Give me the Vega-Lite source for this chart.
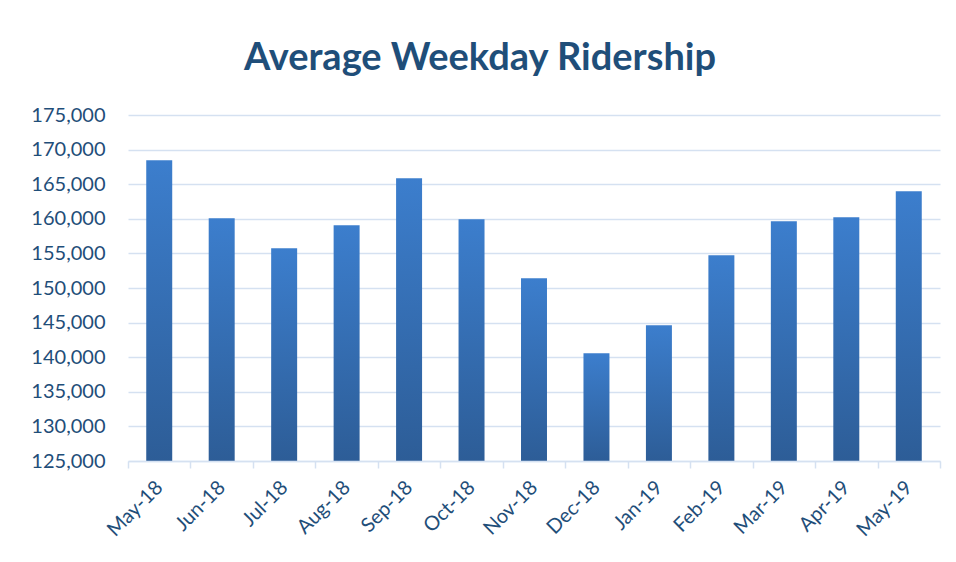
{
  "$schema": "https://vega.github.io/schema/vega-lite/v6.json",
  "autosize": {"type": "none"},
  "width": 812,
  "height": 346,
  "padding": {"left": 128, "top": 115, "right": 16, "bottom": 101},
  "background": "white",
  "title": {
    "text": "Average Weekday Ridership",
    "font": "Lato",
    "fontSize": 38,
    "fontWeight": "bold",
    "color": "#1F4E79",
    "anchor": "middle",
    "dx": -54,
    "offset": 27
  },
  "data": {
    "values": [
      {"month": "May-18", "riders": 168450},
      {"month": "Jun-18", "riders": 160070},
      {"month": "Jul-18", "riders": 155740},
      {"month": "Aug-18", "riders": 159060},
      {"month": "Sep-18", "riders": 165850},
      {"month": "Oct-18", "riders": 159930},
      {"month": "Nov-18", "riders": 151400},
      {"month": "Dec-18", "riders": 140560},
      {"month": "Jan-19", "riders": 144610},
      {"month": "Feb-19", "riders": 154730},
      {"month": "Mar-19", "riders": 159640},
      {"month": "Apr-19", "riders": 160220},
      {"month": "May-19", "riders": 163970}
    ]
  },
  "mark": {
    "type": "bar",
    "width": {"band": 0.416},
    "color": {
      "gradient": "linear",
      "x1": 0, "y1": 0, "x2": 0, "y2": 1,
      "stops": [
        {"offset": 0, "color": "#3c7ecd"},
        {"offset": 1, "color": "#2d5d97"}
      ]
    }
  },
  "encoding": {
    "x": {
      "field": "month",
      "type": "nominal",
      "sort": null,
      "scale": {"paddingInner": 0, "paddingOuter": 0},
      "axis": {
        "title": null,
        "labelAngle": -45,
        "labelAlign": "right",
        "labelBaseline": "middle",
        "labelFont": "Lato",
        "labelFontSize": 20,
        "labelColor": "#1F4E79",
        "labelPadding": 16,
        "tickBand": "extent",
        "tickSize": 7,
        "tickColor": "#d5e1f1",
        "tickWidth": 1.5,
        "domainColor": "#d5e1f1",
        "domainWidth": 1.5,
        "grid": false,
        "zindex": 1
      }
    },
    "y": {
      "field": "riders",
      "type": "quantitative",
      "scale": {"domain": [125000, 175000], "nice": false, "zero": false},
      "axis": {
        "title": null,
        "values": [125000, 130000, 135000, 140000, 145000, 150000, 155000, 160000, 165000, 170000, 175000],
        "format": ",d",
        "labelFont": "Lato",
        "labelFontSize": 20,
        "labelColor": "#1F4E79",
        "labelPadding": 23,
        "ticks": false,
        "domain": false,
        "grid": true,
        "gridColor": "#d5e1f1",
        "gridWidth": 1.5
      }
    },
    "y2": {"datum": 125000}
  },
  "config": {"view": {"stroke": null}}
}
